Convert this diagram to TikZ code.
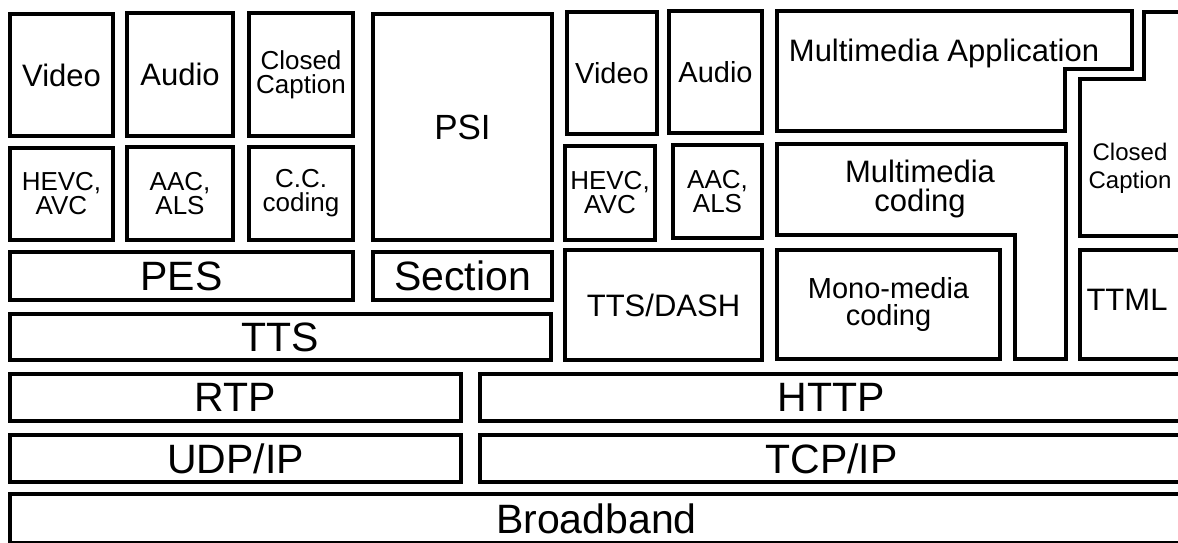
\documentclass[tikz,border=0pt]{standalone}
\usepackage{fontspec}
\setmainfont{Liberation Sans}
\tikzset{
  layer/.style={draw, line width=3.5pt, inner sep=0pt, align=center},
  bigtxt/.style={font=\fontsize{41}{41}\selectfont},
  psitxt/.style={font=\fontsize{35}{35}\selectfont},
  midtxt/.style={font=\fontsize{31}{29}\selectfont},
  monotxt/.style={font=\fontsize{29}{26.5}\selectfont},
  smalltxt/.style={font=\fontsize{26}{24}\selectfont, align=center},
  cctxt/.style={font=\fontsize{24}{28}\selectfont, align=center},
}
\begin{document}
\begin{tikzpicture}[x=1pt, y=-1pt]
  \useasboundingbox (0,0) rectangle (1178,543);
  % broadcast side
  \node[layer, midtxt, minimum width=103, minimum height=122] (video1) at (61.5,75) {Video};
  \node[layer, midtxt, minimum width=106, minimum height=123] (audio1) at (180,74.5) {Audio};
  \node[layer, smalltxt, minimum width=104, minimum height=123] (cc1) at (301,74.5) {Closed\\Caption};
  \node[layer, smalltxt, minimum width=103, minimum height=92] (hevc1) at (61.5,194) {HEVC,\\AVC};
  \node[layer, smalltxt, minimum width=106, minimum height=93] (aac1) at (180,193.5) {AAC,\\ALS};
  \node[layer, smalltxt, minimum width=104, minimum height=93] (ccc1) at (301,193.5) {C.C.\\coding};
  \node[layer, bigtxt, minimum width=343, minimum height=48] (pes) at (181.5,276) {PES};
  \node[layer, bigtxt, minimum width=541, minimum height=46] (tts) at (280.5,337) {TTS};
  \node[layer, psitxt, minimum width=179, minimum height=226] (psi) at (462.5,127) {PSI};
  \node[layer, bigtxt, minimum width=179, minimum height=48] (section) at (462.5,276) {Section};
  % broadband side
  \node[layer, monotxt, minimum width=90, minimum height=122] (video2) at (612,73) {Video};
  \node[layer, monotxt, minimum width=93, minimum height=122] (audio2) at (715.5,72) {Audio};
  \node[layer, smalltxt, minimum width=90, minimum height=94] (hevc2) at (610,193) {HEVC,\\AVC};
  \node[layer, smalltxt, minimum width=89, minimum height=93] (aac2) at (717.5,191.5) {AAC,\\ALS};
  \node[layer, midtxt, minimum width=197, minimum height=110] (ttsdash) at (663.5,305) {TTS/DASH};
  \node[layer, monotxt, minimum width=223, minimum height=109] (mono) at (888.5,304.5) {Mono-media\\coding};
  \draw[line width=3.5pt] (777,11) -- (1132,11) -- (1132,69) -- (1065,69) -- (1065,131) -- (777,131) -- cycle;
  \node[midtxt] (mmapp) at (944,53) {Multimedia Application};
  \draw[line width=3.5pt] (777,144) -- (1066,144) -- (1066,359) -- (1015,359) -- (1015,235) -- (777,235) -- cycle;
  \node[midtxt, align=center] (mmcod) at (920,189) {Multimedia\\coding};
  \draw[line width=3.5pt] (1190,12) -- (1144,12) -- (1144,79) -- (1080,79) -- (1080,236) -- (1190,236);
  \node[cctxt] (cc2) at (1130,168) {Closed\\Caption};
  \draw[line width=3.5pt] (1190,250) -- (1080,250) -- (1080,359) -- (1190,359);
  \node[midtxt] (ttml) at (1127,300) {TTML};
  % transport and network
  \node[layer, bigtxt, minimum width=451, minimum height=47] (rtp) at (235.5,397.5) {RTP};
  \node[layer, bigtxt, minimum width=703, minimum height=47] (http) at (831.5,397.5) {HTTP};
  \node[layer, bigtxt, minimum width=451, minimum height=47] (udp) at (235.5,458.5) {UDP/IP};
  \node[layer, bigtxt, minimum width=703, minimum height=47] (tcp) at (831.5,458.5) {TCP/IP};
  \node[layer, bigtxt, minimum width=1173, minimum height=49] (broadband) at (596.5,518.5) {Broadband};
\end{tikzpicture}
\end{document}
